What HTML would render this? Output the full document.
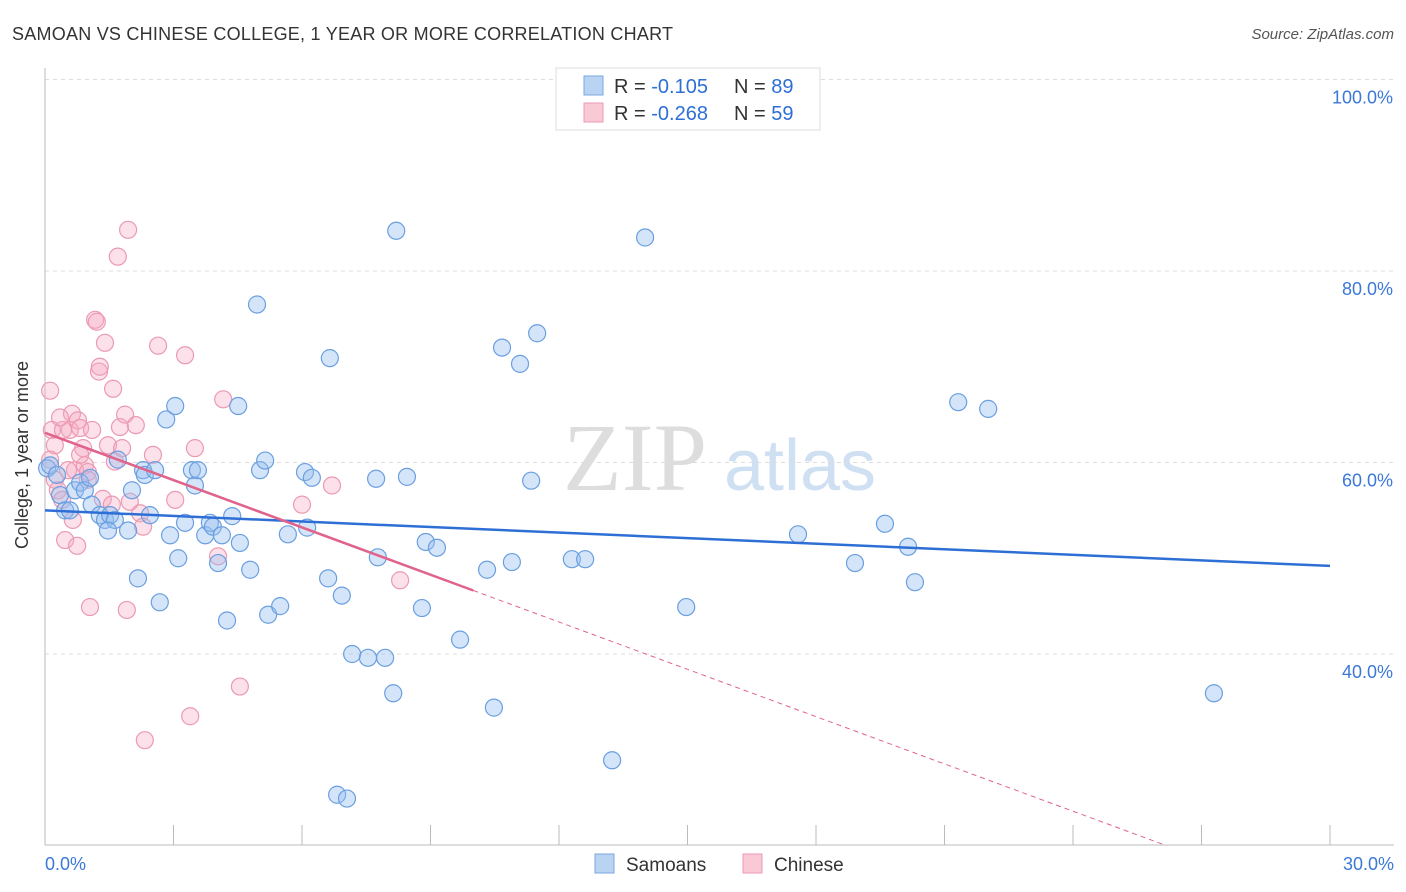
<!DOCTYPE html>
<html><head><meta charset="utf-8"><style>
body{margin:0;background:#fff;font-family:"Liberation Sans",sans-serif;}
svg{display:block}
</style></head><body>
<svg id="chart" width="1406" height="892" xmlns="http://www.w3.org/2000/svg">
<text x="12" y="40" font-size="18" fill="#333" textLength="661" lengthAdjust="spacing">SAMOAN VS CHINESE COLLEGE, 1 YEAR OR MORE CORRELATION CHART</text>
<text x="1394" y="39" font-size="15" fill="#555" font-style="italic" text-anchor="end">Source: ZipAtlas.com</text>
<g><text x="635" y="490" font-size="96" fill="#ddd" font-family="Liberation Serif" text-anchor="middle">ZIP</text><text x="800" y="490" font-size="72" fill="#cfe0f3" text-anchor="middle">atlas</text></g>
<g id="grid"></g><g id="axes"></g><g id="marks"></g><g id="lines"></g>
<text x="28" y="455" font-size="18" fill="#333" text-anchor="middle" transform="rotate(-90 28 455)">College, 1 year or more</text>
<g>
<rect x="556" y="68" width="264" height="62" fill="#fff" stroke="#ddd"/>
<rect x="584" y="76" width="19" height="19" fill="#b9d3f3" stroke="#7aa7e0"/>
<rect x="584" y="103" width="19" height="19" fill="#f9c9d6" stroke="#eb9ab2"/>
<text x="614" y="93" font-size="20" fill="#333">R = <tspan fill="#2e6fd6">-0.105</tspan><tspan x="734">N = </tspan><tspan fill="#2e6fd6">89</tspan></text>
<text x="614" y="120" font-size="20" fill="#333">R = <tspan fill="#2e6fd6">-0.268</tspan><tspan x="734">N = </tspan><tspan fill="#2e6fd6">59</tspan></text>
</g>
<g>
<rect x="595" y="854" width="19" height="19" fill="#b9d3f3" stroke="#7aa7e0"/>
<text x="626" y="871" font-size="19" fill="#333">Samoans</text>
<rect x="743" y="854" width="19" height="19" fill="#f9c9d6" stroke="#eb9ab2"/>
<text x="774" y="871" font-size="19" fill="#333">Chinese</text>
</g>
</svg>
<script>
const blueX=[0.05,0.12,0.28,0.35,0.47,0.58,0.70,0.82,0.93,1.05,1.09,1.28,1.40,1.52,1.63,1.70,1.94,2.03,2.17,2.29,2.33,2.45,2.57,2.68,2.83,2.92,3.04,3.11,3.27,3.43,3.50,3.57,3.74,3.85,3.92,4.04,4.13,4.25,4.37,4.51,4.55,4.79,4.95,5.02,5.14,5.21,5.49,5.67,6.07,6.12,6.23,6.61,6.65,6.93,6.82,7.05,7.17,7.54,7.77,7.73,7.94,8.13,8.20,8.45,8.80,8.89,9.15,9.69,10.32,10.48,10.67,10.90,11.09,11.35,11.49,12.30,12.61,13.24,14.01,14.97,17.58,18.91,19.61,20.15,20.31,21.32,22.02,27.29,1.47];
const blueY=[59.4,59.7,58.7,56.6,55.0,55.0,57.1,57.9,57.1,58.4,55.6,54.5,54.0,54.5,54.0,60.3,52.9,57.1,47.9,59.2,58.7,54.5,59.2,45.4,64.5,52.4,65.9,50.0,53.7,59.2,57.6,59.2,52.4,53.7,53.3,49.5,52.4,43.5,54.4,65.9,51.6,48.8,76.5,59.2,60.2,44.1,45.0,52.5,59.0,53.2,58.4,47.9,70.9,46.1,25.3,24.9,40.0,39.6,50.1,58.3,39.6,35.9,84.2,58.5,44.8,51.7,51.1,41.5,48.8,34.4,72.0,49.6,70.3,58.1,73.5,49.9,49.9,28.9,83.5,44.9,52.5,49.5,53.6,51.2,47.5,66.3,65.6,35.9,52.9];
const pinkX=[0.12,0.16,0.23,0.12,0.23,0.30,0.40,0.47,0.58,0.63,0.70,0.75,0.77,0.82,0.89,0.93,1.00,1.05,1.10,1.17,1.21,1.26,1.28,1.35,1.40,1.47,1.59,1.63,1.70,1.75,1.80,1.87,1.91,1.94,1.98,2.12,2.22,2.29,2.33,2.52,2.64,3.04,3.27,3.39,3.50,4.04,4.16,4.55,6.00,6.70,8.29,0.42,0.35,0.54,0.65,1.00,1.56,0.82];
const pinkY=[67.5,63.4,61.8,60.3,58.2,57.1,56.1,51.9,63.4,65.1,59.2,51.3,64.4,63.6,61.5,59.7,59.0,44.9,63.4,74.9,74.7,69.5,70.0,56.2,72.5,61.8,67.7,60.1,81.5,63.7,61.5,65.0,44.6,84.3,55.9,63.9,54.7,53.3,31.0,60.8,72.2,56.1,71.2,33.5,61.5,50.2,66.6,36.6,55.6,57.6,47.7,63.4,64.7,59.2,54.0,58.2,55.6,60.8];
const blueTrend=[55.0,49.2];
const pinkTrend=[63.1,13.7];
const pinkSolidEnd=10;
const yTicks=[100,80,60,40];
const xTickLabels=["0.0%","30.0%"];
const NS="http://www.w3.org/2000/svg";
const X=v=>45+v/30*1285, Y=v=>79.5+(100-v)*9.575;
function mk(t,a,p){const e=document.createElementNS(NS,t);for(const k in a)e.setAttribute(k,a[k]);document.getElementById(p).appendChild(e);return e;}
yTicks.forEach(t=>{
 const l=mk('line',{x1:45,x2:1394,y1:Y(t),y2:Y(t),stroke:'#ddd','stroke-dasharray':'4 4'},'grid');
 
 
 const tx=mk('text',{x:1393,y:Y(t)+24,'font-size':18,fill:'#3b78d8','text-anchor':'end'},'grid');
 tx.textContent=t.toFixed(1)+'%';
 
 
});
mk('line',{x1:45,x2:45,y1:68,y2:845,stroke:'#bbb'},'axes');
mk('line',{x1:45,x2:1394,y1:845,y2:845,stroke:'#bbb'},'axes');
for(let i=0;i<=10;i++){const t=mk('line',{x1:X(i*3),x2:X(i*3),y1:825,y2:845,stroke:'#bbb'},'axes');}
[[0,'start',45],[30,'end',1394]].forEach((d,i)=>{const t=mk('text',{x:d[2],y:870,'font-size':18,fill:'#3b78d8','text-anchor':d[1]},'axes');t.textContent=xTickLabels[i];});
pinkX.forEach((x,i)=>{const c=mk('circle',{cx:X(x),cy:Y(pinkY[i]),r:8.5,fill:'rgba(245,170,195,0.35)',stroke:'#eb9ab2','stroke-width':1.2},'marks');
 
 });
blueX.forEach((x,i)=>{const c=mk('circle',{cx:X(x),cy:Y(blueY[i]),r:8.5,fill:'rgba(150,190,240,0.4)',stroke:'#6a9fe0','stroke-width':1.2},'marks');
 
 });
const bl=mk('line',{x1:X(0),y1:Y(blueTrend[0]),x2:X(30),y2:Y(blueTrend[1]),stroke:'#2e6fd6','stroke-width':2.5},'lines');


const pAt=x=>pinkTrend[0]+(pinkTrend[1]-pinkTrend[0])*x/30;
const pl=mk('line',{x1:X(0),y1:Y(pAt(0)),x2:X(pinkSolidEnd),y2:Y(pAt(pinkSolidEnd)),stroke:'#e0638c','stroke-width':2.5},'lines');


const xEnd=30*(20-pinkTrend[0])/(pinkTrend[1]-pinkTrend[0]);
const pd=mk('line',{x1:X(pinkSolidEnd),y1:Y(pAt(pinkSolidEnd)),x2:X(Math.min(30,xEnd)),y2:Y(pAt(Math.min(30,xEnd))),stroke:'#e0638c','stroke-width':1,'stroke-dasharray':'5 4'},'lines');


</script>
</body></html>
